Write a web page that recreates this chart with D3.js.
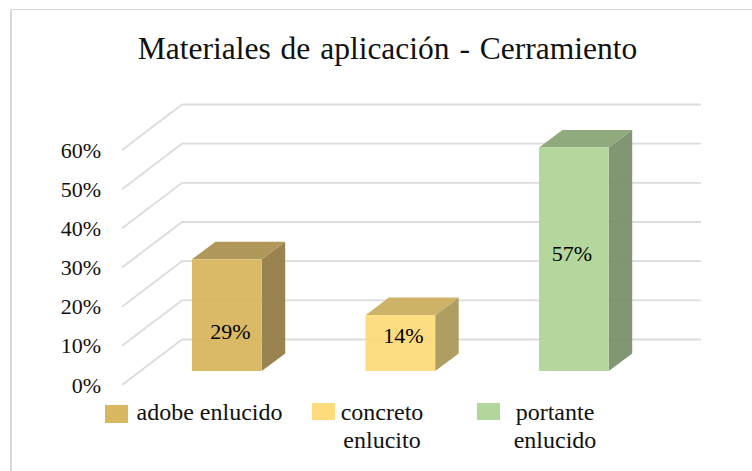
<!DOCTYPE html>
<html><head><meta charset="utf-8">
<script src="https://d3js.org/d3.v7.min.js"></script>
<style>html,body{margin:0;padding:0;background:#fff;overflow:hidden}text{font-family:"Liberation Serif",serif;fill:#111}</style>
</head><body><div id="c"></div>
<script>
const categories = ["adobe enlucido", "concreto enlucito", "portante enlucido"];
const values = [28.57, 14.29, 57.14];
const ticks = [0, 10, 20, 30, 40, 50, 60];
const frontColors = ["#d9b761", "#fedb7c", "#b2d69b"];
const topColors = ["#ac9453", "#ccb062", "#8ca678"];
const sideColors = ["#958049", "#ab9b5c", "#7b9270"];
const legendLines = [["adobe enlucido"], ["concreto", "enlucito"], ["portante", "enlucido"]];

const W = 752, H = 471;
const svg = d3.select("#c").append("svg").attr("width", W).attr("height", H);
// frame
svg.append("path").attr("d", "M11,471V9.5H752").attr("fill", "none").attr("stroke", "#d9d9d9").attr("stroke-width", 1);
svg.append("path").attr("d", "M11,10V471").attr("fill", "none").attr("stroke", "#d9d9d9").attr("stroke-width", 2);

const y = d3.scaleLinear().domain([0, 60]).range([385, 150]);
const depthX = 60, depthY = -45.5;
const xFloor = 122, xRight = 701;

// gridlines
const grid = svg.append("g").attr("fill", "none").attr("stroke", "#dcdcdc").attr("stroke-width", 1.8);
grid.selectAll("path").data(ticks).join("path")
  .attr("d", t => d3.line()([[xFloor, y(t)], [xFloor + depthX, y(t) + depthY], [xRight, y(t) + depthY]]));

// tick labels
svg.append("g").selectAll("text").data(ticks).join("text")
  .attr("x", 101).attr("y", t => y(t) + 7.5).attr("text-anchor", "end")
  .attr("font-size", 22).text(t => t + "%");

// bars
const x0 = d3.scalePoint().domain(categories).range([192, 539]);
const barW = 69.7, bdx = 23.5, bdy = -17.6;
const yb = d3.scaleLinear().domain([0, 60]).range([371, 371 - 234.6]);
const bars = svg.append("g").selectAll("g").data(categories).join("g").attr("opacity", 0.96);
const poly = pts => d3.line()(pts) + "Z";
bars.append("path").attr("fill", (d, i) => sideColors[i]).attr("d", (d, i) => {
  const l = x0(d) + barW, t = yb(values[i]), b = yb(0);
  return poly([[l, t], [l + bdx, t + bdy], [l + bdx, b + bdy], [l, b]]);
});
bars.append("path").attr("fill", (d, i) => topColors[i]).attr("d", (d, i) => {
  const l = x0(d), t = yb(values[i]);
  return poly([[l, t], [l + bdx, t + bdy], [l + barW + bdx, t + bdy], [l + barW, t]]);
});
bars.append("rect").attr("fill", (d, i) => frontColors[i])
  .attr("x", d => x0(d)).attr("width", barW)
  .attr("y", (d, i) => yb(values[i])).attr("height", (d, i) => yb(0) - yb(values[i]));

// data labels
const labelPos = [[230.5, 339], [403.5, 343], [572, 261]];
svg.append("g").selectAll("text").data(values).join("text")
  .attr("x", (d, i) => labelPos[i][0]).attr("y", (d, i) => labelPos[i][1])
  .attr("text-anchor", "middle").attr("font-size", 22).style("fill", "#000").text(d => d3.format(".0f")(d) + "%");

// title
svg.append("text").attr("x", 387.5).attr("y", 59).attr("text-anchor", "middle")
  .attr("font-size", 31.5).attr("word-spacing", 2).text("Materiales de aplicación - Cerramiento");

// legend
const swatches = [[105, 405, 23, 18], [312, 403, 23, 17], [477, 403, 23, 17]];
svg.append("g").selectAll("rect").data(swatches).join("rect")
  .attr("x", d => d[0]).attr("y", d => d[1]).attr("width", d => d[2]).attr("height", d => d[3])
  .attr("fill", (d, i) => frontColors[i]);
const legendX = [209.5, 382, 555];
const lg = svg.append("g").selectAll("text").data(legendLines).join("text")
  .attr("text-anchor", "middle").attr("font-size", 24);
lg.selectAll("tspan").data((d, i) => d.map((s, j) => ({s, j, i}))).join("tspan")
  .attr("x", d => legendX[d.i]).attr("y", d => 420 + d.j * 27.5).text(d => d.s);
</script></body></html>
